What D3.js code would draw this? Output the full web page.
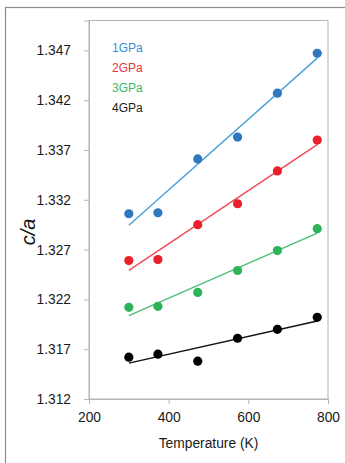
<!DOCTYPE html>
<html><head><meta charset="utf-8">
<script src="https://cdn.jsdelivr.net/npm/d3@7"></script>
<style>html,body{margin:0;padding:0;background:#fff;}svg{display:block;font-family:Arial,"Liberation Sans",sans-serif;}</style>
</head><body>
<script>
const temps = [300, 373, 473, 573, 673, 773];
const seriesNames = ["1GPa", "2GPa", "3GPa", "4GPa"];
const vals1GPa = [1.3306, 1.3307, 1.3361, 1.3383, 1.3427, 1.3467];
const vals2GPa = [1.3259, 1.3260, 1.3295, 1.3316, 1.3349, 1.3380];
const vals3GPa = [1.3212, 1.3213, 1.3227, 1.3249, 1.3269, 1.3291];
const vals4GPa = [1.3162, 1.3165, 1.3158, 1.3181, 1.3190, 1.3202];
const yTicks = [1.312, 1.317, 1.322, 1.327, 1.332, 1.337, 1.342, 1.347];
const xTicks = [200, 400, 600, 800];

const dotColors = ["#2f78c0", "#e8202a", "#2fb35a", "#000000"];
const lineColors = ["#4aa0dc", "#ef4a55", "#4cbf78", "#111111"];
const textColors = ["#3a8fd2", "#ea3540", "#3cb86a", "#222222"];

const W = 345, H = 463;
const svg = d3.select("body").append("svg").attr("width", W).attr("height", H);

// outer frame
svg.append("rect").attr("x", 5.5).attr("y", 7.5).attr("width", 360).attr("height", 480)
  .attr("fill", "none").attr("stroke", "#8c8c8c").attr("stroke-width", 1.2);

const L = 89, R = 328, T = 20.5, B = 399;
const x = d3.scaleLinear().domain([200, 800]).range([L, R]);
const y = d3.scaleLinear().domain([1.312, 1.350]).range([B, T]);

// plot border
svg.append("rect").attr("x", L).attr("y", T).attr("width", R - L).attr("height", B - T)
  .attr("fill", "none").attr("stroke", "#b4b4b4").attr("stroke-width", 1);

const yAxis = svg.append("g").attr("transform", `translate(${L},0)`)
  .call(d3.axisLeft(y).tickValues(yTicks).tickFormat(d3.format(".3f")).tickSize(5).tickPadding(13));
const xAxis = svg.append("g").attr("transform", `translate(0,${B})`)
  .call(d3.axisBottom(x).tickValues(xTicks).tickFormat(d3.format("d")).tickSize(5).tickPadding(8));
[yAxis, xAxis].forEach(g => {
  g.select(".domain").attr("stroke", "#b4b4b4");
  g.selectAll(".tick line").attr("stroke", "#b4b4b4");
  g.selectAll(".tick text").attr("fill", "#1a1a1a").style("font-size", "13.8px")
    .style("font-family", "Arial, 'Liberation Sans', sans-serif");
});

svg.append("text").attr("x", (L + R) / 2).attr("y", 447.5).attr("text-anchor", "middle")
  .style("font-size", "13.8px").attr("fill", "#1a1a1a").text("Temperature (K)");
svg.append("text").attr("transform", "translate(35,232) rotate(-90)").attr("text-anchor", "middle")
  .style("font-size", "20px").style("font-style", "italic").attr("fill", "#111").text("c/a");

const allVals = [vals1GPa, vals2GPa, vals3GPa, vals4GPa];
function fit(xs, ys) {
  const mx = d3.mean(xs), my = d3.mean(ys);
  let sxy = 0, sxx = 0;
  xs.forEach((xi, i) => { sxy += (xi - mx) * (ys[i] - my); sxx += (xi - mx) * (xi - mx); });
  const b = sxy / sxx, a = my - b * mx;
  return t => a + b * t;
}

allVals.forEach((vals, si) => {
  const f = fit(temps, vals);
  const x0 = d3.min(temps), x1 = d3.max(temps);
  svg.append("line").attr("x1", x(x0)).attr("y1", y(f(x0))).attr("x2", x(x1)).attr("y2", y(f(x1)))
    .attr("stroke", lineColors[si]).attr("stroke-width", 1.4);
  svg.append("g").selectAll("circle").data(vals).join("circle")
    .attr("cx", (d, i) => x(temps[i])).attr("cy", d => y(d)).attr("r", 4.6)
    .attr("fill", dotColors[si]);
});

svg.append("g").selectAll("text").data(seriesNames).join("text")
  .attr("x", 112).attr("y", (d, i) => 51.7 + i * 20)
  .style("font-size", "12px").attr("fill", (d, i) => textColors[i]).text(d => d);
</script>
</body></html>
